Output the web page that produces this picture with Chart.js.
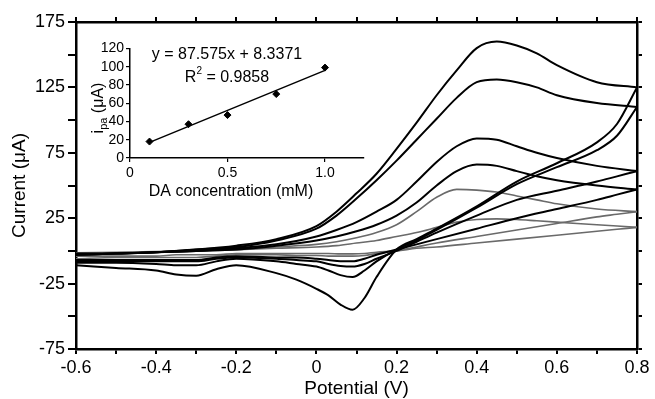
<!DOCTYPE html>
<html>
<head>
<meta charset="utf-8">
<script src="https://cdn.jsdelivr.net/npm/chart.js@4.4.1/dist/chart.umd.min.js"></script>
<style>
  html, body { margin: 0; padding: 0; background: #fff; }
  #wrap { position: relative; width: 655px; height: 399px; }
  #main { position: absolute; left: 0; top: 0; }
  #inset { position: absolute; left: 85px; top: 38px; }
</style>
</head>
<body>
<div id="wrap">
  <canvas id="main" width="655" height="399"></canvas>
  <canvas id="inset" width="285" height="167"></canvas>
</div>
<script>
// --- main CV data: forward scan (-0.6 -> 0.8) and reverse scan (0.8 -> -0.6) ---
const fwdPotential = [-0.6, -0.5, -0.4, -0.3, -0.2, -0.1, 0, 0.05, 0.1, 0.15, 0.2, 0.25, 0.3, 0.35, 0.4, 0.45, 0.5, 0.55, 0.6, 0.7, 0.8];
const revPotential = [0.8, 0.75, 0.7, 0.6, 0.5, 0.4, 0.3, 0.25, 0.2, 0.15, 0.12, 0.09, 0.06, 0.03, 0, -0.05, -0.1, -0.2, -0.25, -0.3, -0.35, -0.4, -0.5, -0.6];

const fwdA = [-3, -2, -1, 1, 4, 9, 19, 30, 44, 59, 78, 98, 119, 138, 155, 160, 157, 151, 142, 129, 125];
const revA = [125, 97, 83, 67, 53, 34, 17, 9, 1, -20, -36, -45, -41, -34, -29, -22, -17, -11, -14, -19, -18, -15, -13, -11];

const fwdB = [-3, -2, -1, 1, 3, 8, 17, 27, 40, 54, 69, 85, 101, 117, 129, 131, 129, 125, 119, 113, 110];
const revB = [110, 88, 77, 64, 51, 33, 16, 8, 1, -8, -15, -20, -18.5, -15, -12, -10, -8, -6, -8, -11, -11, -10, -9, -9];

const fwdC = [-3, -2, -1, 0, 2, 5, 11, 16, 22, 30, 39, 53, 68, 80, 86, 85, 80, 75, 71, 65, 61];
const revC = [61, 57, 53, 46, 39, 27, 14, 7, 0, -6, -10, -12, -11.5, -10, -8, -7, -6, -5, -6, -8, -8, -8, -8, -8];

const fwdD = [-2, -2, -1, 0, 1, 4, 8, 11, 15, 20, 27, 37, 50, 61, 66, 65, 61, 57, 54, 50, 47];
const revD = [47, 43, 39, 32, 25, 17, 9, 5, 1, -3, -6, -8, -8, -7, -6, -5, -5, -4, -5, -7, -7, -7, -7, -7];

const fwdE = [-2, -1.5, -1, 0, 1, 3, 5, 7, 10, 14, 20, 30, 41, 47, 46.5, 45, 42, 39, 36, 32, 30];
const revE = [30, 28, 26, 21, 16, 11, 6, 3, 0, -2, -3.5, -4, -4, -4, -3.5, -3.5, -3, -3, -4, -5, -5, -5, -5, -6];

const fwdF = [-1.5, -1, -0.5, 0, 1, 2, 3, 4, 6, 8, 11, 14, 18, 22, 24, 24.5, 24, 23, 22, 20, 18];
const revF = [18, 16.5, 15, 12, 9, 6, 3, 2, 0, -1, -2, -2.3, -2.3, -2, -2, -2, -2, -2, -3, -3, -3, -4, -4, -4];

const curveColors = ['#000', '#000', '#000', '#000', '#6a6a6a', '#6a6a6a'];

// --- inset data ---
const concentration = [0.1, 0.3, 0.5, 0.75, 1.0];
const peakCurrent = [18, 37, 47, 70, 99];
const fitConc = [0.1, 1.0];
const fitCurrent = [17.1, 95.9];

const FONT = '"Liberation Sans", Arial, sans-serif';

const toPoints = (xs, ys) => xs.map((x, i) => ({ x: x, y: ys[i] }));

const curves = [[fwdA, revA], [fwdB, revB], [fwdC, revC], [fwdD, revD], [fwdE, revE], [fwdF, revF]];
const cvDatasets = [];
curves.forEach((c, i) => {
    const style = {
        showLine: true, pointRadius: 0, borderColor: curveColors[i], borderWidth: i > 3 ? 1.6 : 2,
        cubicInterpolationMode: 'monotone', fill: false
    };
    cvDatasets.push(Object.assign({ data: toPoints(fwdPotential, c[0]) }, style));
    cvDatasets.push(Object.assign({ data: toPoints(revPotential, c[1]) }, style));
});

const mainTitles = {
    id: 'mainTitles',
    afterDraw(chart) {
        const ctx = chart.ctx, a = chart.chartArea;
        ctx.save();
        ctx.fillStyle = '#000';
        ctx.font = '19px ' + FONT;
        ctx.textAlign = 'center';
        ctx.textBaseline = 'middle';
        ctx.fillText('Potential (V)', (a.left + a.right) / 2, 389);
        ctx.translate(20, (a.top + a.bottom) / 2);
        ctx.rotate(-Math.PI / 2);
        ctx.fillText('Current (\u03bcA)', 0, 0);
        ctx.restore();
    }
};

const axisLine = { color: '#000', width: 2.5 };
const tickGrid = len => ({ drawOnChartArea: false, drawTicks: true, tickLength: len, color: '#000', lineWidth: 2 });

new Chart(document.getElementById('main'), {
    type: 'scatter',
    data: { datasets: cvDatasets },
    options: {
        responsive: false,
        animation: false,
        plugins: { legend: { display: false }, tooltip: { enabled: false } },
        layout: { padding: 0 },
        scales: {
            x: {
                type: 'linear', position: 'bottom', min: -0.6, max: 0.8,
                ticks: {
                    stepSize: 0.1, autoSkip: false, maxRotation: 0, color: '#000', padding: 3,
                    font: { family: FONT, size: 18 },
                    callback: v => {
                        const k = Math.round(v * 10);
                        if (k % 2 !== 0) return '';
                        return k === 0 ? '0' : (k / 10).toFixed(1);
                    }
                },
                grid: tickGrid(5), border: axisLine,
                afterFit: s => { s.height = 50; }
            },
            x2: {
                type: 'linear', position: 'top', min: -0.6, max: 0.8,
                ticks: { stepSize: 0.1, display: false },
                grid: tickGrid(5), border: axisLine,
                afterFit: s => { s.height = 22; }
            },
            y: {
                type: 'linear', position: 'left', min: -75, max: 175,
                ticks: {
                    stepSize: 25, autoSkip: false, color: '#000', padding: 3,
                    font: { family: FONT, size: 18 },
                    callback: v => ((v + 75) % 50 === 0 ? String(v) : '')
                },
                grid: tickGrid(8), border: axisLine,
                afterFit: s => { s.width = 76; }
            },
            y2: {
                type: 'linear', position: 'right', min: -75, max: 175,
                ticks: { stepSize: 25, display: false },
                grid: tickGrid(5), border: axisLine,
                afterFit: s => { s.width = 18; }
            }
        }
    },
    plugins: [mainTitles]
});

// --- inset: peak current vs concentration ---
const insetText = {
    id: 'insetText',
    afterDraw(chart) {
        const ctx = chart.ctx;
        ctx.save();
        ctx.fillStyle = '#000';
        ctx.textBaseline = 'middle';
        ctx.font = '16px ' + FONT;
        ctx.textAlign = 'center';
        ctx.fillText('y = 87.575x + 8.3371', 142, 17);
        // R^2 line
        const r = 'R', rest = ' = 0.9858';
        const wR = ctx.measureText(r).width, wRest = ctx.measureText(rest).width;
        ctx.font = '10px ' + FONT;
        const w2 = ctx.measureText('2').width;
        let x0 = 142 - (wR + w2 + wRest) / 2;
        ctx.textAlign = 'left';
        ctx.font = '16px ' + FONT;
        ctx.fillText(r, x0, 40);
        ctx.font = '10px ' + FONT;
        ctx.fillText('2', x0 + wR, 33);
        ctx.font = '16px ' + FONT;
        ctx.fillText(rest, x0 + wR + w2, 40);
        // x title
        ctx.textAlign = 'center';
        ctx.fillText('DA concentration (mM)', 146, 154);
        // y title: i_pa (uA)
        ctx.translate(14, 70);
        ctx.rotate(-Math.PI / 2);
        const wi = ctx.measureText('i').width;
        const wu = ctx.measureText(' (\u03bcA)').width;
        ctx.font = '11px ' + FONT;
        const wpa = ctx.measureText('pa').width;
        let s = -(wi + wpa + wu) / 2;
        ctx.textAlign = 'left';
        ctx.font = '16px ' + FONT;
        ctx.fillText('i', s, 0);
        ctx.font = '11px ' + FONT;
        ctx.fillText('pa', s + wi, 5);
        ctx.font = '16px ' + FONT;
        ctx.fillText(' (\u03bcA)', s + wi + wpa, 0);
        ctx.restore();
    }
};

const insetGrid = { drawOnChartArea: false, drawTicks: true, tickLength: 4, color: '#000', lineWidth: 1.2 };
const insetBorder = { color: '#000', width: 1.5 };

new Chart(document.getElementById('inset'), {
    type: 'scatter',
    data: {
        datasets: [
            {
                data: toPoints(concentration, peakCurrent), pointStyle: 'rectRot', pointRadius: 3.5,
                backgroundColor: '#000', borderColor: '#000', borderWidth: 1
            },
            {
                data: toPoints(fitConc, fitCurrent), showLine: true, pointRadius: 0,
                borderColor: '#000', borderWidth: 1.5
            }
        ]
    },
    options: {
        responsive: false,
        animation: false,
        plugins: { legend: { display: false }, tooltip: { enabled: false } },
        layout: { padding: { top: 10, right: 6 } },
        scales: {
            x: {
                type: 'linear', min: 0, max: 1.2,
                ticks: {
                    stepSize: 0.5, includeBounds: false, autoSkip: false, maxRotation: 0, color: '#000', padding: 3,
                    font: { family: FONT, size: 14 },
                    callback: v => (v === 0 ? '0' : v.toFixed(1))
                },
                grid: insetGrid, border: insetBorder,
                afterFit: s => { s.height = 47; }
            },
            y: {
                type: 'linear', min: 0, max: 120,
                ticks: {
                    stepSize: 20, autoSkip: false, color: '#000', padding: 2,
                    font: { family: FONT, size: 14 }
                },
                grid: insetGrid, border: insetBorder,
                afterFit: s => { s.width = 45; }
            }
        }
    },
    plugins: [insetText]
});
</script>
</body>
</html>
